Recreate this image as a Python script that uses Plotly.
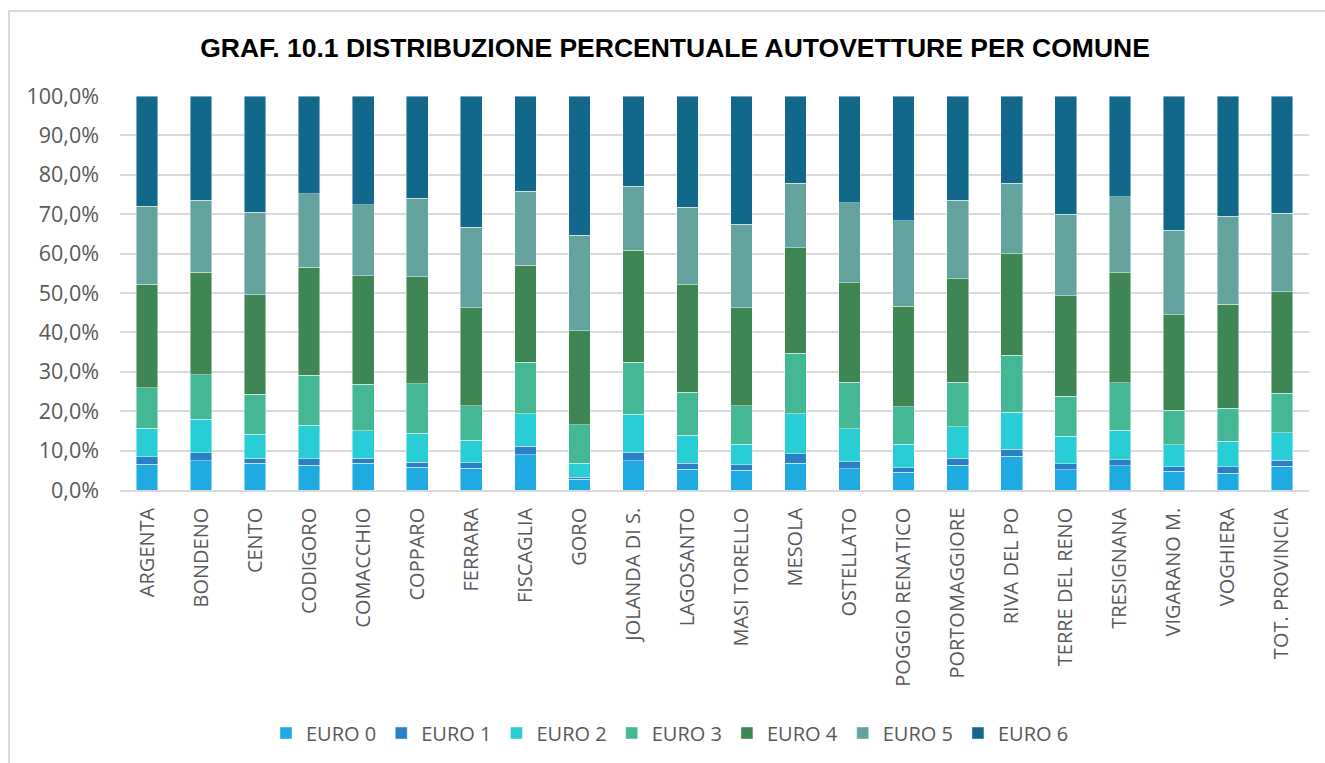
import plotly.graph_objects as go

comuni = [
    "ARGENTA", "BONDENO", "CENTO", "CODIGORO", "COMACCHIO", "COPPARO",
    "FERRARA", "FISCAGLIA", "GORO", "JOLANDA DI S.", "LAGOSANTO",
    "MASI TORELLO", "MESOLA", "OSTELLATO", "POGGIO RENATICO",
    "PORTOMAGGIORE", "RIVA DEL PO", "TERRE DEL RENO", "TRESIGNANA",
    "VIGARANO M.", "VOGHIERA", "TOT. PROVINCIA",
]

# Quota percentuale di autovetture per classe Euro
euro0 = [6.6, 7.4, 6.8, 6.3, 6.8, 5.8, 5.5, 9.0, 2.7, 7.4, 5.3, 5.0, 6.8, 5.4, 4.5, 6.3, 8.6, 5.1, 6.1, 4.8, 4.3, 6.0]
euro1 = [1.8, 2.1, 1.3, 1.6, 1.3, 1.3, 1.4, 2.1, 0.6, 2.2, 1.5, 1.4, 2.4, 1.8, 1.2, 1.8, 1.8, 1.6, 1.6, 1.1, 1.6, 1.5]
euro2 = [7.3, 8.4, 6.0, 8.5, 7.0, 7.3, 5.7, 8.3, 3.5, 9.6, 7.1, 5.2, 10.2, 8.4, 5.9, 7.9, 9.3, 6.9, 7.5, 5.6, 6.5, 7.0]
euro3 = [10.3, 11.4, 10.2, 12.7, 11.7, 12.6, 8.8, 13.0, 9.7, 13.2, 10.9, 9.8, 15.3, 11.7, 9.5, 11.4, 14.5, 10.2, 12.0, 8.8, 8.3, 10.1]
euro4 = [26.2, 26.0, 25.3, 27.5, 27.6, 27.1, 24.8, 24.7, 23.9, 28.5, 27.3, 24.8, 26.8, 25.3, 25.6, 26.2, 25.7, 25.5, 27.9, 24.2, 26.5, 25.7]
euro5 = [19.8, 18.2, 20.9, 18.6, 18.0, 19.9, 20.5, 18.7, 24.3, 16.2, 19.7, 21.3, 16.4, 20.3, 21.6, 19.9, 18.0, 20.7, 19.3, 21.4, 22.3, 20.0]
euro6 = [28.0, 26.5, 29.5, 24.8, 27.6, 26.0, 33.3, 24.2, 35.3, 22.9, 28.2, 32.5, 22.1, 27.1, 31.7, 26.5, 22.1, 30.0, 25.6, 34.1, 30.5, 29.7]

classi = ["EURO 0", "EURO 1", "EURO 2", "EURO 3", "EURO 4", "EURO 5", "EURO 6"]
serie = [euro0, euro1, euro2, euro3, euro4, euro5, euro6]
colori = ["#1fabe2", "#2a80c4", "#28cdd6", "#44b894", "#3e8654", "#63a29d", "#11688a"]

# tacche dell'asse percentuale, con la virgola decimale
tacche_y = list(range(0, 101, 10))
etichette_y = [f"{v:.1f}".replace(".", ",") + "%" for v in tacche_y]

GRIGIO = "#595959"
FONT = "Open Sans"

fig = go.Figure()
for nome, valori, colore in zip(classi, serie, colori):
    fig.add_trace(go.Bar(
        x=comuni, y=valori, name=nome,
        marker=dict(color=colore, line=dict(color="rgba(255,255,255,0.55)", width=0.8)),
    ))

W, H = 1325, 763
L, R, T, B = 120, 16, 96, 273
pw, ph = W - L - R, H - T - B

# cornice grigia attorno al grafico
fig.add_shape(
    type="rect", xref="paper", yref="paper",
    x0=(9 - L) / pw, x1=(W + 10 - L) / pw,
    y0=(H - B - (H + 10)) / ph, y1=(H - B - 11) / ph,
    line=dict(color="#d9d9d9", width=2), fillcolor="rgba(0,0,0,0)", layer="below",
)

fig.update_layout(
    width=W, height=H,
    margin=dict(l=L, r=R, t=T, b=B),
    paper_bgcolor="white", plot_bgcolor="white",
    barmode="stack", bargap=0.6,
    separators=",.",
    font=dict(family=FONT, color=GRIGIO, size=20),
    title=dict(
        text="GRAF. 10.1 DISTRIBUZIONE PERCENTUALE AUTOVETTURE PER COMUNE",
        font=dict(family="Liberation Sans", size=26.5, color="black", weight="bold"),
        x=675 / W, xref="container", xanchor="center",
        y=1 - 48 / H, yref="container", yanchor="middle",
    ),
    legend=dict(
        orientation="h", xref="container", yref="container",
        x=670 / W, xanchor="center", y=1 - 733 / H, yanchor="middle",
        font=dict(family=FONT, size=20, color=GRIGIO),
        traceorder="normal", itemclick=False, itemdoubleclick=False,
    ),
    showlegend=True,
)

fig.update_yaxes(
    range=[0, 100], tickmode="array", tickvals=tacche_y, ticktext=etichette_y,
    showgrid=True, gridcolor="#d9d9d9", gridwidth=1.5,
    zeroline=False, showline=False, ticks="", ticklabelstandoff=20,
    tickfont=dict(family=FONT, size=21.5, color=GRIGIO),
)
fig.update_xaxes(
    tickangle=-90, showgrid=False, showline=True, linecolor="#d9d9d9", linewidth=1.5,
    ticks="", ticklabelstandoff=8,
    tickfont=dict(family=FONT, size=20, color=GRIGIO),
)

fig.write_html("out.html")
